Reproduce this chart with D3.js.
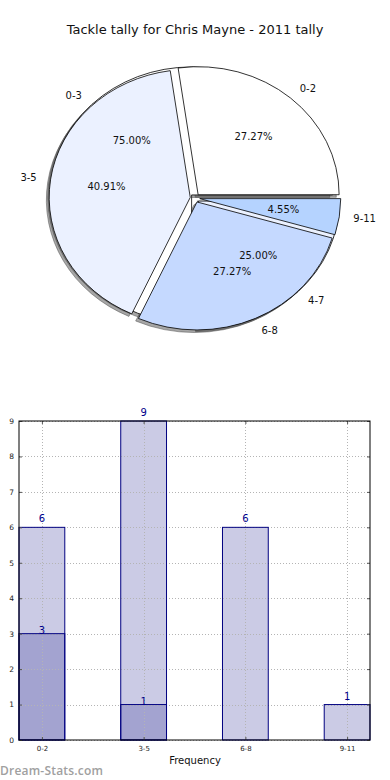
<!DOCTYPE html>
<html><head><meta charset="utf-8">
<script src="https://cdn.jsdelivr.net/npm/d3@7"></script>
<style>body{margin:0;background:#fff;}svg{display:block;font-family:"DejaVu Sans",sans-serif;}</style>
</head><body>
<svg id="c" width="390" height="780"></svg>
<script>
const title = "Tackle tally for Chris Mayne - 2011 tally";
// pie (outer/visible) series
const pieLabels = ["0-2", "3-5", "6-8", "9-11"];
const pieValues = [6, 9, 6, 1];
const pieColors = ["#ffffff", "#ebf1ff", "#c5d9ff", "#b5d3ff"];
// second pie series (drawn beneath)
const pie2Labels = ["0-3", "4-7"];
const pie2Values = [3, 1];
const pie2Colors = ["#ffffff", "#ebf1ff"];
// bar chart
const barCategories = ["0-2", "3-5", "6-8", "9-11"];
const barSeries1 = [6, 9, 6, 1];
const barSeries2 = [3, 1, 0, 0];
const yTicks = [0,1,2,3,4,5,6,7,8,9];
const xLabel = "Frequency";
const watermark = "Dream-Stats.com";

const svg = d3.select("#c");

svg.append("text").attr("x", 195).attr("y", 34).attr("text-anchor", "middle")
  .attr("font-size", 13).attr("fill", "#111").text(title);

// ---------- PIE ----------
const cx = 195, cy = 198, rx = 141, ry = 128, explode = 0.034;
const pieGen = d3.pie().sort(null).startAngle(0).endAngle(2 * Math.PI);
const arcUnit = d3.arc().innerRadius(0).outerRadius(1);
function wedgePath(t1, t2) {
  // matplotlib angles (ccw from east) -> d3 angles (cw from north)
  return arcUnit({startAngle: Math.PI / 2 - t2, endAngle: Math.PI / 2 - t1});
}
function build(labels, values, colors) {
  return pieGen(values).map((d, i) => {
    const tm = (d.startAngle + d.endAngle) / 2;
    return {label: labels[i], value: d.value, color: colors[i], t1: d.startAngle, t2: d.endAngle,
      ox: explode * Math.cos(tm), oy: -explode * Math.sin(tm), tm,
      pct: d.value / d3.sum(values) * 100};
  });
}
const inner = build(pie2Labels, pie2Values, pie2Colors);
const outer = build(pieLabels, pieValues, pieColors);
const all = inner.concat(outer);

const pg = svg.append("g").attr("transform", `translate(${cx},${cy}) scale(${rx},${ry})`);
// shadows
pg.selectAll("path.sh").data(all).join("path").attr("class", "sh")
  .attr("d", d => wedgePath(d.t1, d.t2))
  .attr("transform", d => `translate(${d.ox - 0.02},${d.oy + 0.02})`)
  .attr("fill", "rgba(77,77,77,0.5)")
  .attr("stroke", "rgba(77,77,77,0.5)").attr("stroke-width", 1)
  .attr("vector-effect", "non-scaling-stroke");
// wedges
pg.selectAll("path.w").data(all).join("path").attr("class", "w")
  .attr("d", d => wedgePath(d.t1, d.t2))
  .attr("transform", d => `translate(${d.ox},${d.oy})`)
  .attr("fill", d => d.color).attr("stroke", "#000").attr("stroke-width", 0.8)
  .attr("stroke-linejoin", "round")
  .attr("vector-effect", "non-scaling-stroke");

// labels
const lg = svg.append("g").attr("font-size", 10).attr("fill", "#111");
all.forEach(d => {
  const ux = Math.cos(d.tm), uy = -Math.sin(d.tm);
  const lx = cx + rx * (d.ox + 1.1 * ux), ly = cy + ry * (d.oy + 1.1 * uy);
  lg.append("text").attr("x", lx).attr("y", ly).attr("dy", "0.35em")
    .attr("text-anchor", ux > 0 ? "start" : "end").text(d.label);
  const px = cx + rx * (d.ox + 0.6 * ux), py = cy + ry * (d.oy + 0.6 * uy);
  lg.append("text").attr("x", px).attr("y", py).attr("dy", "0.35em")
    .attr("text-anchor", "middle").text(d.pct.toFixed(2) + "%");
});

// ---------- BAR ----------
const L = 19, R = 370, T = 421, B = 740;
const bw = 0.45;
const x = d3.scaleLinear().domain([-bw / 2, barCategories.length - 1 + bw / 2]).range([L, R]);
const y = d3.scaleLinear().domain([0, 9]).range([B, T]);
const fillG = svg.append("g");
const gridG = svg.append("g").attr("stroke", "#b4b4b4").attr("stroke-width", 1).attr("stroke-dasharray", "1,2");
const edgeG = svg.append("g");

function drawBars(vals, fill) {
  const data = vals.map((v, i) => ({v, i})).filter(d => d.v > 0);
  [fillG, edgeG].forEach((g, k) => {
    g.selectAll(null).data(data).join("rect")
      .attr("x", d => x(d.i - bw / 2)).attr("width", d => x(d.i + bw / 2) - x(d.i - bw / 2))
      .attr("y", d => y(d.v)).attr("height", d => y(0) - y(d.v))
      .attr("fill", k === 0 ? fill : "none")
      .attr("stroke", k === 1 ? "#000080" : "none").attr("stroke-width", 1);
  });
}
drawBars(barSeries1, "#cbcbe5");
drawBars(barSeries2, "#a3a3d0");

// grid between fills and edges
yTicks.forEach(t => gridG.append("line").attr("x1", L).attr("x2", R).attr("y1", Math.round(y(t)) + 0.5).attr("y2", Math.round(y(t)) + 0.5));
barCategories.forEach((c, i) => gridG.append("line").attr("x1", Math.round(x(i)) + 0.5).attr("x2", Math.round(x(i)) + 0.5).attr("y1", T).attr("y2", B));

// axes
const yAxis = d3.axisLeft(y).tickValues(yTicks).tickSize(-3).tickPadding(5).tickFormat(d3.format("d"));
const yg = svg.append("g").attr("transform", `translate(${L},0)`).call(yAxis);
yg.select(".domain").remove();
yg.selectAll("text").attr("font-size", 7.5).attr("fill", "#222").attr("font-family", "DejaVu Sans");
yg.selectAll("line").attr("stroke", "#555");
const yAxisR = d3.axisRight(y).tickValues(yTicks).tickSize(-3).tickFormat("");
const ygr = svg.append("g").attr("transform", `translate(${R},0)`).call(yAxisR);
ygr.select(".domain").remove(); ygr.selectAll("line").attr("stroke", "#555");

const xAxis = d3.axisBottom(x).tickValues(d3.range(barCategories.length)).tickSize(-3).tickPadding(6)
  .tickFormat(i => barCategories[i]);
const xg = svg.append("g").attr("transform", `translate(0,${B})`).call(xAxis);
xg.select(".domain").remove();
xg.selectAll("text").attr("font-size", 7).attr("fill", "#222").attr("font-family", "DejaVu Sans");
xg.selectAll("line").attr("stroke", "#555");
const xAxisT = d3.axisTop(x).tickValues(d3.range(barCategories.length)).tickSize(-3).tickFormat("");
const xgt = svg.append("g").attr("transform", `translate(0,${T})`).call(xAxisT);
xgt.select(".domain").remove(); xgt.selectAll("line").attr("stroke", "#555");

svg.append("rect").attr("x", L).attr("y", T).attr("width", R - L).attr("height", B - T)
  .attr("fill", "none").attr("stroke", "#000").attr("stroke-width", 1);

// value labels
function valueLabels(vals, gap) {
  vals.forEach((v, i) => {
    if (v > 0) svg.append("text").attr("x", x(i)).attr("y", y(v) - gap).attr("text-anchor", "middle")
      .attr("font-size", 10).attr("fill", "#00008b").text(v);
  });
}
valueLabels(barSeries1, 5);
valueLabels(barSeries2, 0);

svg.append("text").attr("x", 195).attr("y", 764).attr("text-anchor", "middle")
  .attr("font-size", 10).attr("fill", "#111").text(xLabel);

svg.append("text").attr("x", 0).attr("y", 775).attr("font-size", 12).attr("font-family", "Open Sans, DejaVu Sans")
  .attr("font-weight", 600).attr("fill", "#a0a0a0").attr("textLength", 103).text(watermark);
</script>
</body></html>
